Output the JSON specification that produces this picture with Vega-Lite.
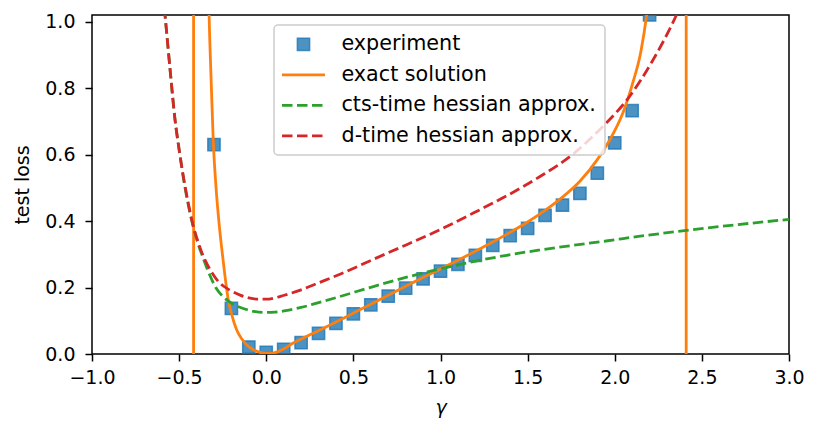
{
  "$schema": "https://vega.github.io/schema/vega-lite/v6.json",
  "width": 697,
  "height": 339,
  "autosize": {"type": "none"},
  "padding": {"left": 92, "top": 15, "right": 31, "bottom": 78},
  "background": "white",
  "config": {
    "font": "DejaVu Sans",
    "view": {"stroke": "#000000", "strokeWidth": 1.5},
    "axis": {
      "domain": false,
      "grid": false,
      "ticks": true,
      "tickColor": "#000000",
      "tickSize": 7,
      "tickWidth": 1.5,
      "labelColor": "#000000",
      "labelFont": "DejaVu Sans",
      "labelFontSize": 19,
      "labelFlush": false,
      "labelOverlap": false,
      "titleFont": "DejaVu Sans",
      "titleFontSize": 19,
      "titleFontWeight": "normal",
      "titleColor": "#000000"
    }
  },
  "data": {
    "values": [
      {"series": "experiment", "x": -0.3, "y": 0.63},
      {"series": "experiment", "x": -0.2, "y": 0.137},
      {"series": "experiment", "x": -0.1, "y": 0.021},
      {"series": "experiment", "x": 0.0, "y": 0.005},
      {"series": "experiment", "x": 0.1, "y": 0.014},
      {"series": "experiment", "x": 0.2, "y": 0.034},
      {"series": "experiment", "x": 0.3, "y": 0.062},
      {"series": "experiment", "x": 0.4, "y": 0.092},
      {"series": "experiment", "x": 0.5, "y": 0.121},
      {"series": "experiment", "x": 0.6, "y": 0.148},
      {"series": "experiment", "x": 0.7, "y": 0.174},
      {"series": "experiment", "x": 0.8, "y": 0.198},
      {"series": "experiment", "x": 0.9, "y": 0.226},
      {"series": "experiment", "x": 1.0, "y": 0.249},
      {"series": "experiment", "x": 1.1, "y": 0.27},
      {"series": "experiment", "x": 1.2, "y": 0.297},
      {"series": "experiment", "x": 1.3, "y": 0.327},
      {"series": "experiment", "x": 1.4, "y": 0.356},
      {"series": "experiment", "x": 1.5, "y": 0.378},
      {"series": "experiment", "x": 1.6, "y": 0.417},
      {"series": "experiment", "x": 1.7, "y": 0.448},
      {"series": "experiment", "x": 1.8, "y": 0.483},
      {"series": "experiment", "x": 1.9, "y": 0.544},
      {"series": "experiment", "x": 2.0, "y": 0.635},
      {"series": "experiment", "x": 2.1, "y": 0.732},
      {"series": "experiment", "x": 2.2, "y": 1.02},

      {"series": "exact solution", "x": -1.0, "y": -0.3},
      {"series": "exact solution", "x": -0.7, "y": -0.8},
      {"series": "exact solution", "x": -0.5, "y": -3},
      {"series": "exact solution", "x": -0.44, "y": -15},
      {"series": "exact solution", "x": -0.4175, "y": -1000},
      {"series": "exact solution", "x": -0.4165, "y": 1000},
      {"series": "exact solution", "x": -0.36, "y": 2.2},
      {"series": "exact solution", "x": -0.34, "y": 1.35},
      {"series": "exact solution", "x": -0.328, "y": 1.02},
      {"series": "exact solution", "x": -0.316, "y": 0.82},
      {"series": "exact solution", "x": -0.304, "y": 0.64},
      {"series": "exact solution", "x": -0.288, "y": 0.5},
      {"series": "exact solution", "x": -0.272, "y": 0.4},
      {"series": "exact solution", "x": -0.256, "y": 0.32},
      {"series": "exact solution", "x": -0.237, "y": 0.235},
      {"series": "exact solution", "x": -0.218, "y": 0.163},
      {"series": "exact solution", "x": -0.2, "y": 0.122},
      {"series": "exact solution", "x": -0.17, "y": 0.073},
      {"series": "exact solution", "x": -0.14, "y": 0.045},
      {"series": "exact solution", "x": -0.112, "y": 0.027},
      {"series": "exact solution", "x": -0.07, "y": 0.012},
      {"series": "exact solution", "x": -0.036, "y": 0.005},
      {"series": "exact solution", "x": 0.0, "y": 0.002},
      {"series": "exact solution", "x": 0.03, "y": 0.002},
      {"series": "exact solution", "x": 0.07, "y": 0.008},
      {"series": "exact solution", "x": 0.1, "y": 0.015},
      {"series": "exact solution", "x": 0.155, "y": 0.033},
      {"series": "exact solution", "x": 0.2, "y": 0.045},
      {"series": "exact solution", "x": 0.3, "y": 0.07},
      {"series": "exact solution", "x": 0.4, "y": 0.096},
      {"series": "exact solution", "x": 0.5, "y": 0.123},
      {"series": "exact solution", "x": 0.6, "y": 0.15},
      {"series": "exact solution", "x": 0.7, "y": 0.177},
      {"series": "exact solution", "x": 0.8, "y": 0.204},
      {"series": "exact solution", "x": 0.9, "y": 0.23},
      {"series": "exact solution", "x": 1.0, "y": 0.256},
      {"series": "exact solution", "x": 1.1, "y": 0.282},
      {"series": "exact solution", "x": 1.2, "y": 0.309},
      {"series": "exact solution", "x": 1.3, "y": 0.337},
      {"series": "exact solution", "x": 1.4, "y": 0.366},
      {"series": "exact solution", "x": 1.5, "y": 0.397},
      {"series": "exact solution", "x": 1.6, "y": 0.432},
      {"series": "exact solution", "x": 1.7, "y": 0.472},
      {"series": "exact solution", "x": 1.8, "y": 0.52},
      {"series": "exact solution", "x": 1.9, "y": 0.585},
      {"series": "exact solution", "x": 1.95, "y": 0.625},
      {"series": "exact solution", "x": 2.0, "y": 0.672},
      {"series": "exact solution", "x": 2.05, "y": 0.73},
      {"series": "exact solution", "x": 2.1, "y": 0.81},
      {"series": "exact solution", "x": 2.15, "y": 0.91},
      {"series": "exact solution", "x": 2.183, "y": 1.02},
      {"series": "exact solution", "x": 2.22, "y": 1.2},
      {"series": "exact solution", "x": 2.3, "y": 1.9},
      {"series": "exact solution", "x": 2.37, "y": 5},
      {"series": "exact solution", "x": 2.405, "y": 60},
      {"series": "exact solution", "x": 2.4095, "y": 1000},
      {"series": "exact solution", "x": 2.4105, "y": -1000},
      {"series": "exact solution", "x": 2.45, "y": -10},
      {"series": "exact solution", "x": 2.7, "y": -1.5},
      {"series": "exact solution", "x": 3.0, "y": -0.6},

      {"series": "cts-time hessian approx.", "x": -0.64, "y": 1.4},
      {"series": "cts-time hessian approx.", "x": -0.6, "y": 1.12},
      {"series": "cts-time hessian approx.", "x": -0.581, "y": 1.02},
      {"series": "cts-time hessian approx.", "x": -0.55, "y": 0.845},
      {"series": "cts-time hessian approx.", "x": -0.524, "y": 0.707},
      {"series": "cts-time hessian approx.", "x": -0.5, "y": 0.615},
      {"series": "cts-time hessian approx.", "x": -0.466, "y": 0.5},
      {"series": "cts-time hessian approx.", "x": -0.44, "y": 0.43},
      {"series": "cts-time hessian approx.", "x": -0.419, "y": 0.383},
      {"series": "cts-time hessian approx.", "x": -0.39, "y": 0.33},
      {"series": "cts-time hessian approx.", "x": -0.361, "y": 0.287},
      {"series": "cts-time hessian approx.", "x": -0.323, "y": 0.236},
      {"series": "cts-time hessian approx.", "x": -0.29, "y": 0.2},
      {"series": "cts-time hessian approx.", "x": -0.246, "y": 0.172},
      {"series": "cts-time hessian approx.", "x": -0.19, "y": 0.15},
      {"series": "cts-time hessian approx.", "x": -0.132, "y": 0.137},
      {"series": "cts-time hessian approx.", "x": -0.07, "y": 0.128},
      {"series": "cts-time hessian approx.", "x": -0.017, "y": 0.125},
      {"series": "cts-time hessian approx.", "x": 0.05, "y": 0.126},
      {"series": "cts-time hessian approx.", "x": 0.136, "y": 0.133},
      {"series": "cts-time hessian approx.", "x": 0.2, "y": 0.14},
      {"series": "cts-time hessian approx.", "x": 0.29, "y": 0.153},
      {"series": "cts-time hessian approx.", "x": 0.423, "y": 0.173},
      {"series": "cts-time hessian approx.", "x": 0.615, "y": 0.203},
      {"series": "cts-time hessian approx.", "x": 0.806, "y": 0.231},
      {"series": "cts-time hessian approx.", "x": 0.997, "y": 0.256},
      {"series": "cts-time hessian approx.", "x": 1.188, "y": 0.278},
      {"series": "cts-time hessian approx.", "x": 1.38, "y": 0.297},
      {"series": "cts-time hessian approx.", "x": 1.571, "y": 0.313},
      {"series": "cts-time hessian approx.", "x": 1.762, "y": 0.327},
      {"series": "cts-time hessian approx.", "x": 1.95, "y": 0.34},
      {"series": "cts-time hessian approx.", "x": 2.126, "y": 0.353},
      {"series": "cts-time hessian approx.", "x": 2.413, "y": 0.372},
      {"series": "cts-time hessian approx.", "x": 2.7, "y": 0.389},
      {"series": "cts-time hessian approx.", "x": 3.0, "y": 0.405},

      {"series": "d-time hessian approx.", "x": -0.64, "y": 1.4},
      {"series": "d-time hessian approx.", "x": -0.6, "y": 1.12},
      {"series": "d-time hessian approx.", "x": -0.581, "y": 1.02},
      {"series": "d-time hessian approx.", "x": -0.55, "y": 0.845},
      {"series": "d-time hessian approx.", "x": -0.524, "y": 0.707},
      {"series": "d-time hessian approx.", "x": -0.5, "y": 0.615},
      {"series": "d-time hessian approx.", "x": -0.476, "y": 0.535},
      {"series": "d-time hessian approx.", "x": -0.45, "y": 0.46},
      {"series": "d-time hessian approx.", "x": -0.419, "y": 0.385},
      {"series": "d-time hessian approx.", "x": -0.39, "y": 0.335},
      {"series": "d-time hessian approx.", "x": -0.361, "y": 0.294},
      {"series": "d-time hessian approx.", "x": -0.32, "y": 0.252},
      {"series": "d-time hessian approx.", "x": -0.284, "y": 0.224},
      {"series": "d-time hessian approx.", "x": -0.25, "y": 0.206},
      {"series": "d-time hessian approx.", "x": -0.208, "y": 0.192},
      {"series": "d-time hessian approx.", "x": -0.15, "y": 0.177},
      {"series": "d-time hessian approx.", "x": -0.1, "y": 0.169},
      {"series": "d-time hessian approx.", "x": -0.05, "y": 0.165},
      {"series": "d-time hessian approx.", "x": 0.0, "y": 0.165},
      {"series": "d-time hessian approx.", "x": 0.05, "y": 0.169},
      {"series": "d-time hessian approx.", "x": 0.098, "y": 0.176},
      {"series": "d-time hessian approx.", "x": 0.2, "y": 0.193},
      {"series": "d-time hessian approx.", "x": 0.29, "y": 0.212},
      {"series": "d-time hessian approx.", "x": 0.423, "y": 0.24},
      {"series": "d-time hessian approx.", "x": 0.615, "y": 0.285},
      {"series": "d-time hessian approx.", "x": 0.806, "y": 0.329},
      {"series": "d-time hessian approx.", "x": 0.997, "y": 0.374},
      {"series": "d-time hessian approx.", "x": 1.188, "y": 0.424},
      {"series": "d-time hessian approx.", "x": 1.38, "y": 0.476},
      {"series": "d-time hessian approx.", "x": 1.571, "y": 0.534},
      {"series": "d-time hessian approx.", "x": 1.762, "y": 0.602},
      {"series": "d-time hessian approx.", "x": 1.934, "y": 0.686},
      {"series": "d-time hessian approx.", "x": 2.078, "y": 0.77},
      {"series": "d-time hessian approx.", "x": 2.221, "y": 0.886},
      {"series": "d-time hessian approx.", "x": 2.346, "y": 1.011},
      {"series": "d-time hessian approx.", "x": 2.42, "y": 1.1},
      {"series": "d-time hessian approx.", "x": 2.5, "y": 1.22}
    ]
  },
  "encoding": {
    "x": {
      "field": "x",
      "type": "quantitative",
      "scale": {"domain": [-1, 3], "nice": false, "zero": false},
      "axis": {
        "title": "γ",
        "titleFontStyle": "italic",
        "values": [-1, -0.5, 0, 0.5, 1, 1.5, 2, 2.5, 3],
        "format": ".1f",
        "labelPadding": 7,
        "titlePadding": 11
      }
    },
    "y": {
      "field": "y",
      "type": "quantitative",
      "scale": {"domain": [0, 1.02], "nice": false, "zero": false},
      "axis": {
        "title": "test loss",
        "values": [0, 0.2, 0.4, 0.6, 0.8, 1.0],
        "format": ".1f",
        "labelPadding": 10,
        "titlePadding": 12
      }
    },
    "color": {
      "field": "series",
      "type": "nominal",
      "scale": {
        "domain": ["experiment", "exact solution", "cts-time hessian approx.", "d-time hessian approx."],
        "range": ["#1f77b4", "#ff7f0e", "#2ca02c", "#d62728"]
      },
      "legend": {
        "title": null,
        "orient": "none",
        "legendX": 182,
        "legendY": 10,
        "direction": "vertical",
        "fillColor": "rgba(255,255,255,0.8)",
        "strokeColor": "#cccccc",
        "cornerRadius": 4,
        "padding": 9,
        "labelFont": "DejaVu Sans",
        "labelFontSize": 20.7,
        "labelColor": "#000000",
        "labelLimit": 0,
        "labelOffset": 14,
        "rowPadding": 8.5,
        "symbolSize": 1849,
        "symbolStrokeWidth": 2.8,
        "symbolType": "stroke",
        "encode": {
          "legend": {"update": {"strokeWidth": {"value": 1.5}}},
          "labels": {"update": {"x": {"value": 58.5}}},
          "symbols": {
            "update": {
              "x": {"value": 20.5},
              "shape": {"signal": "datum.value === 'experiment' ? 'square' : 'stroke'"},
              "size": {"signal": "datum.value === 'experiment' ? 150 : 1849"},
              "fill": {"signal": "datum.value === 'experiment' ? '#1f77b4' : 'transparent'"},
              "fillOpacity": {"value": 0.8},
              "stroke": {"signal": "scale('color', datum.value)"},
              "strokeOpacity": {"signal": "datum.value === 'experiment' ? 0.8 : 1"},
              "strokeWidth": {"signal": "datum.value === 'experiment' ? 1.5 : 2.8"},
              "strokeDash": {"signal": "(datum.value === 'cts-time hessian approx.' || datum.value === 'd-time hessian approx.') ? [10.5, 4.5] : [1, 0]"},
              "opacity": {"value": 1}
            }
          }
        }
      }
    }
  },
  "layer": [
    {
      "transform": [{"filter": "datum.series === 'experiment'"}],
      "mark": {
        "type": "point",
        "shape": "square",
        "filled": true,
        "size": 150,
        "fillOpacity": 0.8,
        "strokeOpacity": 0.8,
        "stroke": "#1f77b4",
        "strokeWidth": 1.5,
        "opacity": 1,
        "clip": true
      }
    },
    {
      "transform": [{"filter": "datum.series !== 'experiment'"}],
      "mark": {
        "type": "line",
        "strokeWidth": 2.8,
        "interpolate": "monotone",
        "clip": true,
        "strokeCap": "butt"
      },
      "encoding": {
        "strokeDash": {
          "field": "series",
          "type": "nominal",
          "scale": {
            "domain": ["exact solution", "cts-time hessian approx.", "d-time hessian approx."],
            "range": [[1, 0], [10.5, 4.5], [10.5, 4.5]]
          },
          "legend": null
        }
      }
    }
  ]
}
